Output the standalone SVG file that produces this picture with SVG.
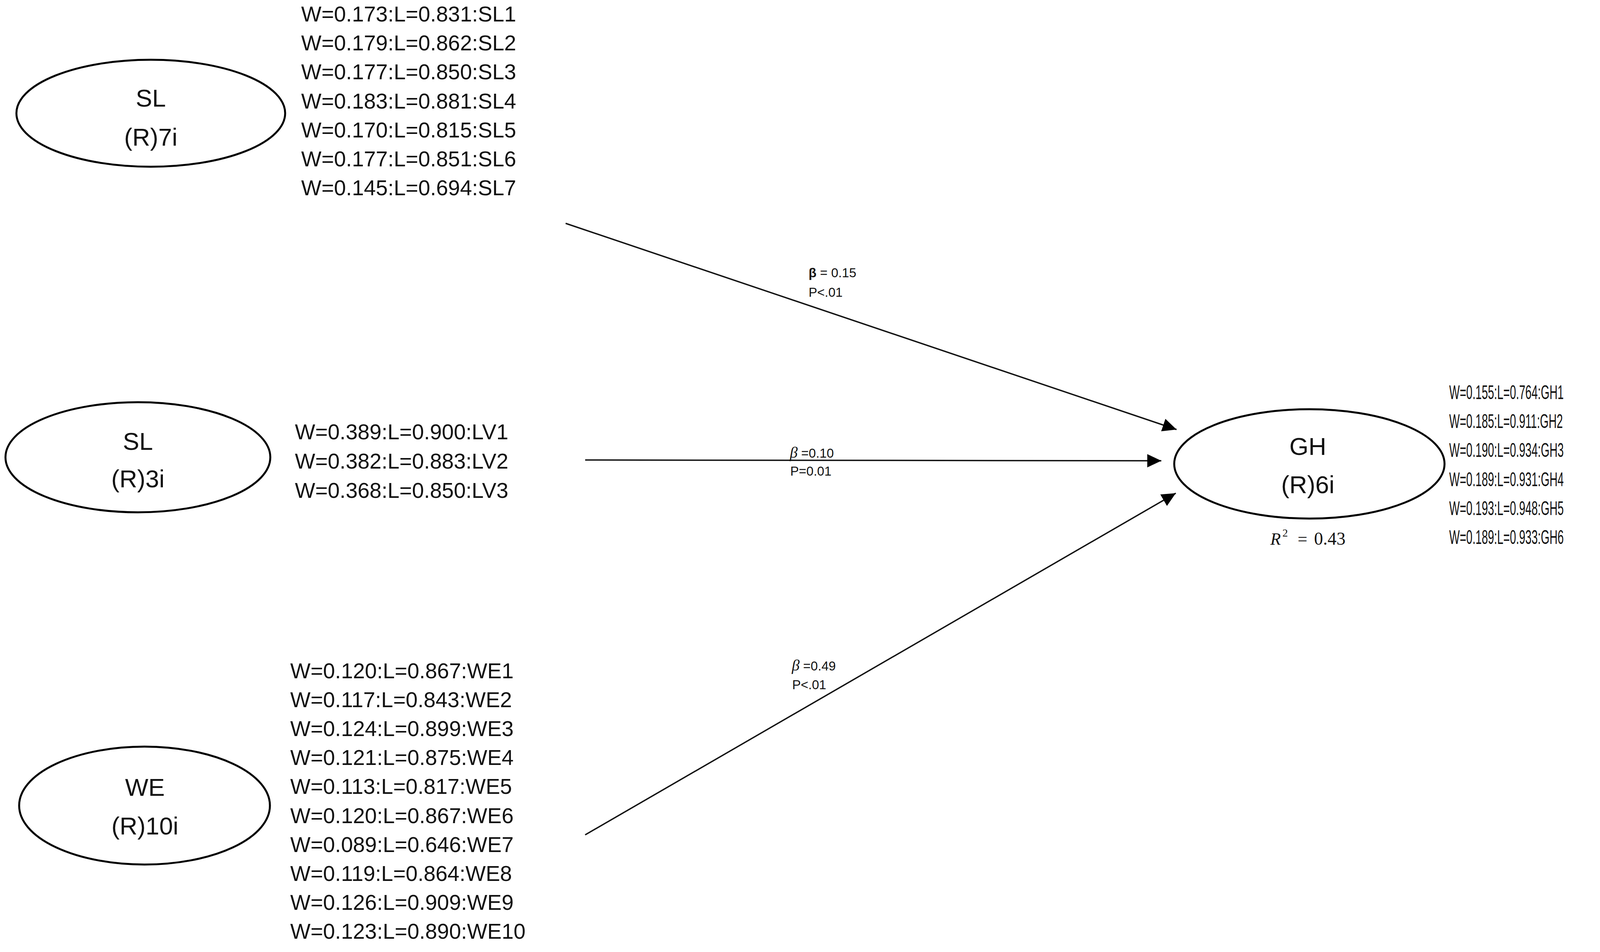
<svg xmlns="http://www.w3.org/2000/svg" width="4328" height="2438" viewBox="0 0 4328 2438">
<style>
.ell{fill:#fff;stroke:#000;stroke-width:5}
.lab{font-family:"Liberation Sans",Arial,sans-serif;font-size:63px;fill:#111;text-anchor:middle}
.it{font-family:"Liberation Sans",Arial,sans-serif;font-size:55px;fill:#111}
.gh{font-family:"Liberation Sans",Arial,sans-serif;font-size:50px;fill:#111}
.bl{font-family:"Liberation Sans",Arial,sans-serif;font-size:33px;fill:#111}
.gr{font-family:"Liberation Serif","Times New Roman",serif;font-style:italic}
.con{stroke:#111;stroke-width:3.5;fill:none;marker-end:url(#ah)}
</style>
<defs>
<marker id="ah" markerUnits="userSpaceOnUse" markerWidth="36" markerHeight="34" refX="36" refY="17" orient="auto">
<path d="M0,0 L36,17 L0,34 z" fill="#000"/>
</marker>
</defs>
<rect width="4328" height="2438" fill="#fff"/>
<g id="connectors">
<line class="con" x1="1448" y1="572" x2="3012" y2="1100"/>
<line class="con" x1="1498" y1="1178" x2="2973" y2="1180"/>
<line class="con" x1="1498" y1="2138" x2="3010" y2="1263"/>
<g id="path-labels">
<text class="bl" x="2070" y="710"><tspan font-weight="bold">β</tspan> = 0.15</text>
<text class="bl" x="2070" y="760">P&lt;.01</text>
<text class="bl" x="2022" y="1172"><tspan class="gr" font-size="40">β</tspan> =0.10</text>
<text class="bl" x="2023" y="1218">P=0.01</text>
<text class="bl" x="2027" y="1717"><tspan class="gr" font-size="40">β</tspan> =0.49</text>
<text class="bl" x="2028" y="1765">P&lt;.01</text>
</g>
</g>
<g id="node-SL-7i">
<ellipse class="ell" cx="386" cy="290" rx="344" ry="137"/>
<text class="lab" x="386" y="273">SL</text>
<text class="lab" x="386" y="373">(R)7i</text>
<text class="it" x="771" y="55">W=0.173:L=0.831:SL1</text>
<text class="it" x="771" y="129">W=0.179:L=0.862:SL2</text>
<text class="it" x="771" y="203">W=0.177:L=0.850:SL3</text>
<text class="it" x="771" y="278">W=0.183:L=0.881:SL4</text>
<text class="it" x="771" y="352">W=0.170:L=0.815:SL5</text>
<text class="it" x="771" y="426">W=0.177:L=0.851:SL6</text>
<text class="it" x="771" y="500">W=0.145:L=0.694:SL7</text>
</g>
<g id="node-SL-3i">
<ellipse class="ell" cx="353" cy="1171" rx="339" ry="141"/>
<text class="lab" x="353" y="1152">SL</text>
<text class="lab" x="353" y="1248">(R)3i</text>
<text class="it" x="755" y="1125">W=0.389:L=0.900:LV1</text>
<text class="it" x="755" y="1200">W=0.382:L=0.883:LV2</text>
<text class="it" x="755" y="1275">W=0.368:L=0.850:LV3</text>
</g>
<g id="node-WE">
<ellipse class="ell" cx="370" cy="2063" rx="321" ry="151"/>
<text class="lab" x="371" y="2038">WE</text>
<text class="lab" x="371" y="2137">(R)10i</text>
<text class="it" x="743" y="1737">W=0.120:L=0.867:WE1</text>
<text class="it" x="743" y="1811">W=0.117:L=0.843:WE2</text>
<text class="it" x="743" y="1885">W=0.124:L=0.899:WE3</text>
<text class="it" x="743" y="1959">W=0.121:L=0.875:WE4</text>
<text class="it" x="743" y="2033">W=0.113:L=0.817:WE5</text>
<text class="it" x="743" y="2108">W=0.120:L=0.867:WE6</text>
<text class="it" x="743" y="2182">W=0.089:L=0.646:WE7</text>
<text class="it" x="743" y="2256">W=0.119:L=0.864:WE8</text>
<text class="it" x="743" y="2330">W=0.126:L=0.909:WE9</text>
<text class="it" x="743" y="2404">W=0.123:L=0.890:WE10</text>
</g>
<g id="node-GH">
<ellipse class="ell" cx="3352" cy="1188" rx="346" ry="140"/>
<text class="lab" x="3348" y="1165">GH</text>
<text class="lab" x="3348" y="1263">(R)6i</text>
<text font-family="'Liberation Serif','Times New Roman',serif" font-size="44" fill="#111" y="1395"><tspan x="3252" font-style="italic">R</tspan><tspan x="3283" y="1374" font-size="28">2</tspan><tspan x="3322" y="1395">=</tspan><tspan x="3364" font-size="46">0.43</tspan></text>
<g transform="translate(3710,0) scale(0.57,1)">
<text class="gh" x="0" y="1022">W=0.155:L=0.764:GH1</text>
<text class="gh" x="0" y="1096">W=0.185:L=0.911:GH2</text>
<text class="gh" x="0" y="1170">W=0.190:L=0.934:GH3</text>
<text class="gh" x="0" y="1245">W=0.189:L=0.931:GH4</text>
<text class="gh" x="0" y="1319">W=0.193:L=0.948:GH5</text>
<text class="gh" x="0" y="1393">W=0.189:L=0.933:GH6</text>
</g>
</g>
</svg>
